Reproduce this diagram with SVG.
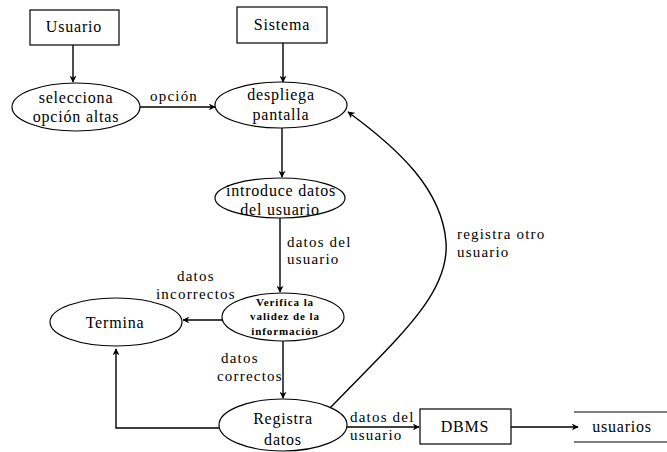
<svg xmlns="http://www.w3.org/2000/svg" width="667" height="452" viewBox="0 0 667 452">
  <style>
    .box { fill: #fff; stroke: #000; stroke-width: 1.2; }
    .proc { fill: #fff; stroke: #000; stroke-width: 1.2; }
    .t { font-family: "Liberation Serif", "Times New Roman", serif; font-size: 16px; letter-spacing: 0.8px; fill: #000; text-anchor: middle; }
    .lbl { font-family: "Liberation Serif", "Times New Roman", serif; font-size: 15px; letter-spacing: 1.2px; fill: #000; }
    .sm { font-family: "Liberation Serif", "Times New Roman", serif; font-size: 11px; font-weight: bold; letter-spacing: 0.9px; fill: #000; text-anchor: middle; }
    .c { fill: none; stroke: #000; stroke-width: 1.4; marker-end: url(#ah); }
  </style>
  <defs>
    <marker id="ah" viewBox="0 0 10 10" refX="9" refY="5" markerWidth="7" markerHeight="7" markerUnits="userSpaceOnUse" orient="auto">
      <path d="M0,0 L10,5 L0,10 L3,5 z" fill="#000"/>
    </marker>
  </defs>

  <!-- connectors -->
  <g id="connectors">
    <path class="c" d="M73,45 V82"/>
    <path class="c" d="M283,43 V82"/>
    <path class="c" d="M140,107 H215"/>
    <path class="c" d="M282,128 V177"/>
    <path class="c" d="M280,218 V292"/>
    <path class="c" d="M222,320 H183"/>
    <path class="c" d="M283,341 V398"/>
    <path class="c" d="M219,428 H116 V349"/>
    <path class="c" d="M346,427 H419"/>
    <path class="c" d="M511,427 H578"/>
    <path class="c" d="M330,408 C395,340 450,295 446,242 C442,190 400,150 348,112"/>
  </g>

  <!-- connector labels -->
  <g id="labels">
    <text class="lbl" x="150" y="101">opción</text>
    <text class="lbl" x="287" y="247">datos del</text>
    <text class="lbl" x="287" y="264">usuario</text>
    <text class="lbl" x="457" y="239">registra otro</text>
    <text class="lbl" x="457" y="257">usuario</text>
    <text class="lbl" x="177" y="281">datos</text>
    <text class="lbl" x="156" y="299">incorrectos</text>
    <text class="lbl" x="221" y="363">datos</text>
    <text class="lbl" x="217" y="381">correctos</text>
    <text class="lbl" x="350" y="422">datos del</text>
    <text class="lbl" x="350" y="440">usuario</text>
  </g>

  <g id="usuario">
    <rect class="box" x="30" y="10" width="89" height="35"/>
    <text class="t" x="74" y="32">Usuario</text>
  </g>

  <g id="sistema">
    <rect class="box" x="237" y="7" width="90" height="36"/>
    <text class="t" x="282" y="30">Sistema</text>
  </g>

  <g id="selecciona">
    <ellipse class="proc" cx="76" cy="107" rx="64" ry="24"/>
    <text class="t" x="76" y="103">selecciona</text>
    <text class="t" x="76" y="122">opción altas</text>
  </g>

  <g id="despliega">
    <ellipse class="proc" cx="281" cy="105" rx="66" ry="23"/>
    <text class="t" x="281" y="100">despliega</text>
    <text class="t" x="281" y="120">pantalla</text>
  </g>

  <g id="introduce">
    <ellipse class="proc" cx="280" cy="198" rx="65" ry="20"/>
    <text class="t" x="281" y="196">introduce datos</text>
    <text class="t" x="280" y="215">del usuario</text>
  </g>

  <g id="verifica">
    <ellipse class="proc" cx="283" cy="317" rx="61" ry="24"/>
    <text class="sm" x="285" y="306">Verifica la</text>
    <text class="sm" x="285" y="320">validez de la</text>
    <text class="sm" x="285" y="335">información</text>
  </g>

  <g id="termina">
    <ellipse class="proc" cx="116" cy="322" rx="66" ry="24"/>
    <text class="t" x="115" y="328">Termina</text>
  </g>

  <g id="registra">
    <ellipse class="proc" cx="283" cy="425" rx="64" ry="26"/>
    <text class="t" x="283" y="424">Registra</text>
    <text class="t" x="283" y="445">datos</text>
  </g>

  <g id="dbms">
    <rect class="box" x="420" y="409" width="91" height="35"/>
    <text class="t" x="465" y="432">DBMS</text>
  </g>

  <g id="usuarios">
    <line x1="574" y1="412" x2="667" y2="412" stroke="#000" stroke-width="1"/>
    <line x1="574" y1="442" x2="667" y2="442" stroke="#000" stroke-width="1"/>
    <text class="t" x="622" y="432">usuarios</text>
  </g>
</svg>
